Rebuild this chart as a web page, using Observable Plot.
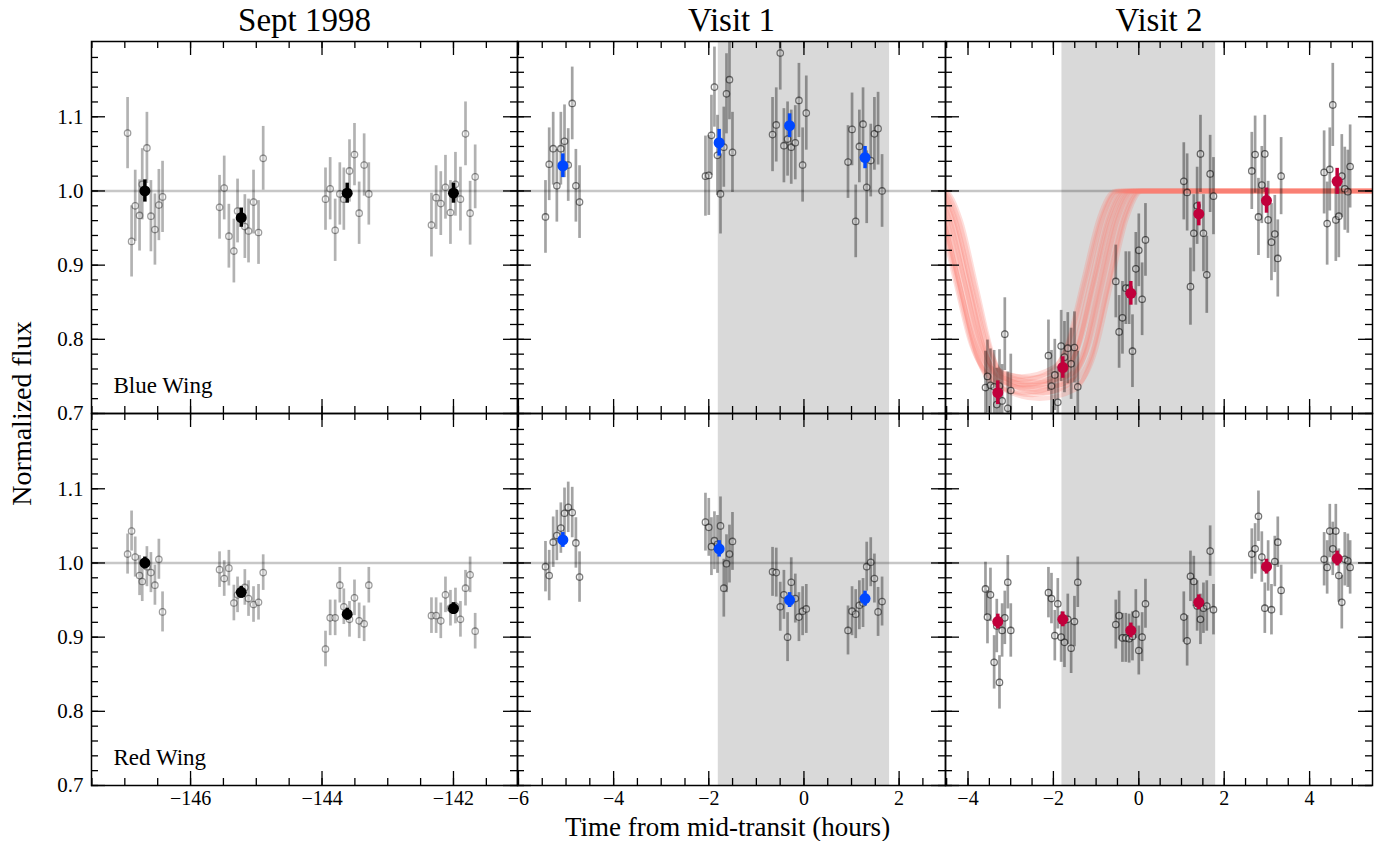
<!DOCTYPE html>
<html>
<head>
<meta charset="utf-8">
<script src="https://cdn.jsdelivr.net/npm/d3@7"></script>
<script src="https://cdn.jsdelivr.net/npm/@observablehq/plot@0.6"></script>
<style>
  body { margin: 0; background: #fff; }
  #fig { position: relative; width: 1396px; height: 841px; background: #fff; font-family: "Liberation Serif", serif; }
  .col { position: absolute; top: 0; }
</style>
</head>
<body>
<div id="fig"></div>
<script>
// ---------------- DATA ----------------
const wings = ["Blue Wing", "Red Wing"];
const columnTitles = ["Sept 1998", "Visit 1", "Visit 2"];
const yMajor = [0.7, 0.8, 0.9, 1.0, 1.1];

// Sept 1998
const sept_t = [-146.958, -146.897, -146.842, -146.776, -146.735, -146.664, -146.603, -146.542, -146.482, -146.426,
  -145.559, -145.488, -145.417, -145.341, -145.285, -145.174, -145.118, -145.042, -144.966, -144.895,
  -143.947, -143.876, -143.800, -143.729, -143.668, -143.582, -143.506, -143.435, -143.359, -143.288,
  -142.335, -142.264, -142.193, -142.122, -142.046, -141.970, -141.894, -141.817, -141.747, -141.670];
const sept_blue_f = [1.078, 0.932, 0.980, 0.967, 1.009, 1.058, 0.966, 0.948, 0.981, 0.992,
  0.978, 1.004, 0.939, 0.919, 0.973, 0.952, 0.946, 0.985, 0.944, 1.044,
  0.989, 1.003, 0.947, 0.996, 0.989, 1.027, 1.049, 0.970, 1.035, 0.996,
  0.954, 0.991, 0.983, 1.005, 0.971, 1.009, 0.989, 1.077, 0.970, 1.019];
const sept_blue_e = [0.048, 0.043, 0.042, 0.043];
const sept_red_f = [1.012, 1.043, 1.008, 0.983, 0.975, 0.995, 0.987, 0.970, 1.005, 0.934,
  0.991, 0.979, 0.993, 0.946, 0.957, 0.967, 0.952, 0.944, 0.947, 0.987,
  0.884, 0.926, 0.926, 0.970, 0.941, 0.924, 0.953, 0.922, 0.918, 0.970,
  0.929, 0.929, 0.922, 0.957, 0.939, 0.942, 0.924, 0.966, 0.984, 0.908];
const sept_red_e = [0.027, 0.024, 0.024, 0.024];
const sept_bin_t = [-146.695, -145.229, -143.617, -142.000];
const sept_bin_blue_f = [1.000, 0.964, 0.997, 0.997];
const sept_bin_blue_e = [0.015, 0.013, 0.0135, 0.0135];
const sept_bin_red_f = [1.000, 0.9605, 0.931, 0.9385];
const sept_bin_red_e = [0.008, 0.008, 0.008, 0.008];

// Visit 1
const v1_t = [-5.432, -5.354, -5.270, -5.193, -5.109, -5.032, -4.954, -4.870, -4.793, -4.716,
  -2.070, -2.000, -1.944, -1.881, -1.818, -1.754, -1.684, -1.628, -1.565, -1.502,
  -0.660, -0.582, -0.498, -0.421, -0.344, -0.267, -0.182, -0.105, -0.028, 0.049,
  0.926, 1.011, 1.088, 1.165, 1.242, 1.319, 1.404, 1.481, 1.558, 1.642];
const v1_blue_f = [0.965, 1.036, 1.057, 1.007, 1.057, 1.067, 1.035, 1.118, 1.007, 0.985,
  1.020, 1.021, 1.075, 1.140, 1.048, 0.996, 1.059, 1.131, 1.150, 1.052,
  1.076, 1.089, 1.186, 1.061, 1.070, 1.059, 1.065, 1.122, 1.035, 1.105,
  1.039, 1.083, 0.959, 1.060, 1.090, 1.005, 1.041, 1.077, 1.084, 1.000];
const v1_blue_e = [0.049, 0.054, 0.050, 0.049];
const v1_red_f = [0.995, 0.983, 1.028, 1.037, 1.047, 1.067, 1.075, 1.068, 1.027, 0.981,
  1.055, 1.048, 1.022, 1.030, 1.025, 1.050, 0.966, 0.999, 1.012, 1.029,
  0.988, 0.987, 0.941, 0.957, 0.900, 0.974, 0.952, 0.927, 0.935, 0.938,
  0.909, 0.935, 0.931, 0.943, 0.946, 0.995, 1.001, 0.979, 0.934, 0.948];
const v1_red_e = [0.034, 0.039, 0.033, 0.033];
const v1_bin_t = [-5.067, -1.782, -0.302, 1.284];
const v1_bin_blue_f = [1.034, 1.065, 1.088, 1.045];
const v1_bin_blue_e = [0.016, 0.018, 0.016, 0.015];
const v1_bin_red_f = [1.031, 1.019, 0.950, 0.952];
const v1_bin_red_e = [0.010, 0.011, 0.010, 0.010];

// Visit 2
const v2_t = [-3.591, -3.544, -3.474, -3.388, -3.326, -3.263, -3.201, -3.138, -3.068, -2.998,
  -2.116, -2.045, -1.967, -1.897, -1.819, -1.741, -1.663, -1.585, -1.507, -1.429,
  -0.539, -0.461, -0.383, -0.304, -0.226, -0.148, -0.070, 0.000, 0.078, 0.156,
  1.054, 1.132, 1.210, 1.288, 1.366, 1.444, 1.514, 1.592, 1.671, 1.749,
  2.646, 2.724, 2.802, 2.881, 2.951, 3.029, 3.107, 3.185, 3.255, 3.333,
  4.340, 4.411, 4.473, 4.543, 4.614, 4.684, 4.754, 4.824, 4.895, 4.949];
const v2_blue_f = [0.735, 0.750, 0.738, 0.736, 0.712, 0.737, 0.717, 0.807, 0.707, 0.731,
  0.778, 0.737, 0.752, 0.715, 0.791, 0.776, 0.788, 0.767, 0.789, 0.736,
  0.878, 0.810, 0.829, 0.869, 0.869, 0.784, 0.895, 0.920, 0.854, 0.934,
  1.013, 0.998, 0.871, 0.943, 0.980, 1.050, 0.943, 0.887, 1.023, 0.993,
  1.027, 1.049, 0.965, 1.008, 1.050, 0.961, 0.931, 0.942, 0.909, 1.020,
  1.025, 0.956, 1.029, 1.116, 0.961, 0.966, 1.020, 1.003, 0.999, 1.033];
const v2_blue_e = [0.049, 0.048, 0.049, 0.052, 0.052, 0.056];
const v2_red_f = [0.965, 0.927, 0.957, 0.866, 0.915, 0.839, 0.909, 0.926, 0.974, 0.909,
  0.960, 0.952, 0.902, 0.945, 0.900, 0.893, 0.924, 0.885, 0.921, 0.974,
  0.917, 0.929, 0.899, 0.899, 0.898, 0.901, 0.931, 0.882, 0.900, 0.945,
  0.927, 0.895, 0.982, 0.975, 0.942, 0.924, 0.939, 0.942, 1.016, 0.937,
  1.012, 1.019, 1.063, 1.008, 0.939, 0.996, 0.937, 1.002, 1.028, 0.963,
  1.005, 0.994, 1.043, 1.019, 1.043, 0.983, 0.947, 1.005, 1.003, 0.994];
const v2_red_e = [0.036, 0.034, 0.033, 0.034, 0.034, 0.036];
const v2_bin_t = [-3.302, -1.780, -0.187, 1.405, 2.990, 4.645];
const v2_bin_blue_f = [0.728, 0.762, 0.862, 0.969, 0.987, 1.013];
const v2_bin_blue_e = [0.016, 0.0145, 0.016, 0.016, 0.017, 0.0175];
const v2_bin_red_f = [0.921, 0.924, 0.909, 0.947, 0.995, 1.006];
const v2_bin_red_e = [0.010, 0.010, 0.010, 0.010, 0.010, 0.010];

// optical transit window (hours)
const transitWindow = [-1.8, 1.8];

// Blue-wing model light curves for Visit 2 (time, flux)
const modelCurves = [
  [[-5.3,1],[-5.05,1],[-4.675,0.964],[-4.30,0.879],[-3.925,0.793],[-3.55,0.757],[-2.80,0.745],[-2.05,0.757],[-1.675,0.793],[-1.30,0.879],[-0.925,0.964],[-0.55,1],[5.6,1]],
  [[-5.3,1],[-5.00,1],[-4.625,0.963],[-4.25,0.875],[-3.875,0.788],[-3.50,0.750],[-2.735,0.738],[-1.97,0.750],[-1.595,0.788],[-1.22,0.875],[-0.845,0.963],[-0.47,1],[5.6,1]],
  [[-5.3,1],[-4.98,1],[-4.605,0.964],[-4.23,0.881],[-3.855,0.798],[-3.48,0.762],[-2.74,0.750],[-2.00,0.762],[-1.625,0.798],[-1.25,0.881],[-0.875,0.964],[-0.50,1],[5.6,1]],
  [[-5.3,1],[-4.95,1],[-4.575,0.962],[-4.20,0.873],[-3.825,0.785],[-3.45,0.747],[-2.675,0.735],[-1.90,0.747],[-1.525,0.785],[-1.15,0.873],[-0.775,0.962],[-0.40,1],[5.6,1]],
  [[-5.3,1],[-4.92,1],[-4.545,0.961],[-4.17,0.870],[-3.795,0.779],[-3.42,0.740],[-2.635,0.728],[-1.85,0.740],[-1.475,0.779],[-1.10,0.870],[-0.725,0.961],[-0.35,1],[5.6,1]],
  [[-5.3,1],[-4.88,1],[-4.505,0.963],[-4.13,0.877],[-3.755,0.791],[-3.38,0.754],[-2.59,0.742],[-1.80,0.754],[-1.425,0.791],[-1.05,0.877],[-0.675,0.963],[-0.30,1],[5.6,1]],
  [[-5.3,1],[-4.84,1],[-4.465,0.964],[-4.09,0.880],[-3.715,0.796],[-3.34,0.760],[-2.545,0.748],[-1.75,0.760],[-1.375,0.796],[-1.00,0.880],[-0.625,0.964],[-0.25,1],[5.6,1]],
  [[-5.3,1],[-4.80,1],[-4.425,0.961],[-4.05,0.869],[-3.675,0.776],[-3.30,0.737],[-2.50,0.725],[-1.70,0.737],[-1.325,0.776],[-0.95,0.869],[-0.575,0.961],[-0.20,1],[5.6,1]],
  [[-5.3,1],[-4.76,1],[-4.385,0.963],[-4.01,0.875],[-3.635,0.788],[-3.26,0.750],[-2.46,0.738],[-1.66,0.750],[-1.285,0.788],[-0.91,0.875],[-0.535,0.963],[-0.16,1],[5.6,1]],
  [[-5.3,1],[-4.72,1],[-4.345,0.962],[-3.97,0.872],[-3.595,0.782],[-3.22,0.744],[-2.42,0.732],[-1.62,0.744],[-1.245,0.782],[-0.87,0.872],[-0.495,0.962],[-0.12,1],[5.6,1]],
  [[-5.3,1],[-4.68,1],[-4.305,0.963],[-3.93,0.877],[-3.555,0.791],[-3.18,0.754],[-2.365,0.742],[-1.55,0.754],[-1.175,0.791],[-0.80,0.877],[-0.425,0.963],[-0.05,1],[5.6,1]],
  [[-5.3,1],[-4.65,1],[-4.275,0.960],[-3.90,0.866],[-3.525,0.772],[-3.15,0.732],[-2.325,0.720],[-1.50,0.732],[-1.125,0.772],[-0.75,0.866],[-0.375,0.960],[0.0,1],[5.6,1]],
  [[-5.3,1],[-4.60,1],[-4.225,0.962],[-3.85,0.873],[-3.475,0.785],[-3.10,0.747],[-2.28,0.735],[-1.46,0.747],[-1.085,0.785],[-0.71,0.873],[-0.335,0.962],[0.04,1],[5.6,1]],
  [[-5.3,1],[-4.55,1],[-4.175,0.961],[-3.80,0.870],[-3.425,0.779],[-3.05,0.740],[-2.235,0.728],[-1.42,0.740],[-1.045,0.779],[-0.67,0.870],[-0.295,0.961],[0.08,1],[5.6,1]]
];

// ---------------- LAYOUT / STYLE ----------------
const LEFT = [91, 517, 945];
const WIDTH = [426, 428, 427];
const HEIGHT = 841, MT = 41, MB = 56;
const FH = (HEIGHT - MT - MB) / 2;
const YDOM = [0.7, 1.2015];
const FONT = "Liberation Serif";
const minus = d => (d < 0 ? "\u2212" : "") + Math.abs(d);

function rows(t, f, e, wing, per) {
  return t.map((x, i) => ({ t: x, f: f[i], e: e[Math.floor(i / per)], wing }));
}

const cols = [
  {
    title: columnTitles[0],
    x: [-147.507, -141.026], xMajor: [-146, -144, -142], xMinor: d3.range(-147.5, -141.0, 0.5),
    pts: [...rows(sept_t, sept_blue_f, sept_blue_e, wings[0], 10), ...rows(sept_t, sept_red_f, sept_red_e, wings[1], 10)],
    bins: [...rows(sept_bin_t, sept_bin_blue_f, sept_bin_blue_e, wings[0], 1), ...rows(sept_bin_t, sept_bin_red_f, sept_bin_red_e, wings[1], 1)],
    color: "#000000", barOp: 0.3, dotOp: 0.38, shade: null, model: null
  },
  {
    title: columnTitles[1],
    x: [-6.02, 2.975], xMajor: [-6, -4, -2, 0, 2], xMinor: d3.range(-6, 3.0, 0.5),
    pts: [...rows(v1_t, v1_blue_f, v1_blue_e, wings[0], 10), ...rows(v1_t, v1_red_f, v1_red_e, wings[1], 10)],
    bins: [...rows(v1_bin_t, v1_bin_blue_f, v1_bin_blue_e, wings[0], 1), ...rows(v1_bin_t, v1_bin_red_f, v1_bin_red_e, wings[1], 1)],
    color: "#0047ff", barOp: 0.36, dotOp: 0.5, shade: transitWindow, model: null
  },
  {
    title: columnTitles[2],
    x: [-4.527, 5.473], xMajor: [-4, -2, 0, 2, 4], xMinor: d3.range(-4.5, 5.5, 0.5),
    pts: [...rows(v2_t, v2_blue_f, v2_blue_e, wings[0], 10), ...rows(v2_t, v2_red_f, v2_red_e, wings[1], 10)],
    bins: [...rows(v2_bin_t, v2_bin_blue_f, v2_bin_blue_e, wings[0], 1), ...rows(v2_bin_t, v2_bin_red_f, v2_bin_red_e, wings[1], 1)],
    color: "#c1003b", barOp: 0.38, dotOp: 0.55, shade: transitWindow,
    model: modelCurves.flatMap((c, id) => c.map(([t, f]) => ({ t, f, id, wing: wings[0] })))
  }
];

const yMinor = d3.range(0.7, 1.2, 0.02);

function makeCol(i) {
  const c = cols[i];
  const W = WIDTH[i];
  const marks = [];
  if (c.shade) marks.push(Plot.rect([c.shade], { x1: d => d[0], x2: d => d[1], fill: "#d9d9d9" }));
  marks.push(Plot.ruleY([1], { y: d => d, stroke: "black", strokeOpacity: 0.22, strokeWidth: 2.5 }));
  if (c.model) marks.push(Plot.line(c.model, { x: "t", y: "f", z: "id", fy: "wing", curve: "monotone-x",
    stroke: "#fa8072", strokeOpacity: 0.26, strokeWidth: 4.5, clip: true }));
  marks.push(Plot.ruleX(c.pts, { x: "t", y1: d => d.f - d.e, y2: d => d.f + d.e, fy: "wing",
    stroke: "black", strokeOpacity: c.barOp, strokeWidth: 2.7, clip: true }));
  marks.push(Plot.dot(c.pts, { x: "t", y: "f", fy: "wing", r: 3.2, stroke: "black", strokeOpacity: c.dotOp,
    strokeWidth: 1.3, fill: "white", fillOpacity: 0.25, clip: true }));
  marks.push(Plot.ruleX(c.bins, { x: "t", y1: d => d.f - d.e, y2: d => d.f + d.e, fy: "wing", stroke: c.color, strokeWidth: 3.5 }));
  marks.push(Plot.dot(c.bins, { x: "t", y: "f", fy: "wing", r: 5.5, fill: c.color, stroke: "none" }));
  // inward ticks on all four sides
  const tk = { stroke: "black", strokeWidth: 1.3 };
  marks.push(Plot.tickX(c.xMajor, { x: d => d, insetTop: FH - 14, ...tk }));
  marks.push(Plot.tickX(c.xMajor, { x: d => d, insetBottom: FH - 14, ...tk }));
  marks.push(Plot.tickX(c.xMinor, { x: d => d, insetTop: FH - 7, ...tk }));
  marks.push(Plot.tickX(c.xMinor, { x: d => d, insetBottom: FH - 7, ...tk }));
  marks.push(Plot.tickY(yMajor, { y: d => d, insetRight: W - 14, ...tk }));
  marks.push(Plot.tickY(yMajor, { y: d => d, insetLeft: W - 14, ...tk }));
  marks.push(Plot.tickY(yMinor, { y: d => d, insetRight: W - 7, ...tk }));
  marks.push(Plot.tickY(yMinor, { y: d => d, insetLeft: W - 7, ...tk }));
  marks.push(Plot.frame({ stroke: "black", strokeWidth: 1.5 }));
  // tick labels
  marks.push(Plot.axisX({ ticks: c.xMajor, tickSize: 0, tickPadding: 5, tickFormat: minus, fontSize: 20, label: null, anchor: "bottom" }));
  if (i === 0) {
    marks.push(Plot.axisY({ ticks: yMajor, tickSize: 0, tickPadding: 8, tickFormat: d3.format(".1f"), fontSize: 21, label: null, anchor: "left" }));
    marks.push(Plot.text(wings, { fy: d => d, text: d => d, frameAnchor: "bottom-left", dx: 22, dy: -21,
      textAnchor: "start", lineAnchor: "bottom", fontSize: 23 }));
    marks.push(Plot.text(["Normalized flux"], { fy: () => wings[0], frameAnchor: "bottom-left", dx: -69, rotate: -90,
      textAnchor: "middle", lineAnchor: "middle", fontSize: 28 }));
  }
  if (i === 1) {
    marks.push(Plot.text(["Time from mid-transit (hours)"], { fy: () => wings[1], frameAnchor: "bottom", dx: -4, dy: 42,
      textAnchor: "middle", lineAnchor: "middle", fontSize: 27 }));
  }
  marks.push(Plot.text([c.title], { fy: () => wings[0], frameAnchor: "top", dy: -21, lineAnchor: "middle", fontSize: 33 }));

  return Plot.plot({
    width: W, height: HEIGHT,
    marginLeft: 0, marginRight: 0, marginTop: MT, marginBottom: MB,
    x: { domain: c.x, axis: null },
    y: { domain: YDOM, axis: null },
    fy: { domain: wings, axis: null, padding: 0, label: null },
    style: { background: "transparent", overflow: "visible", fontFamily: FONT, color: "black" },
    marks
  });
}

const fig = document.getElementById("fig");
cols.forEach((c, i) => {
  const d = document.createElement("div");
  d.className = "col";
  d.style.left = LEFT[i] + "px";
  d.style.width = WIDTH[i] + "px";
  d.appendChild(makeCol(i));
  fig.appendChild(d);
});
</script>
</body>
</html>
